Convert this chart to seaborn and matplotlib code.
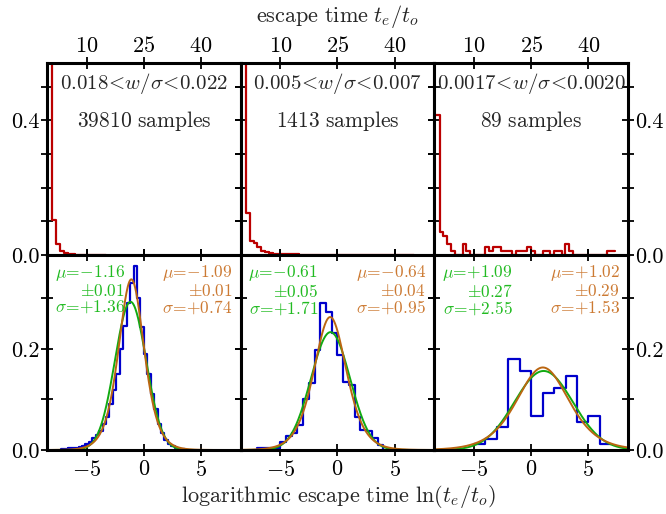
import numpy as np
import pandas as pd
import matplotlib
matplotlib.use("Agg")
import matplotlib.pyplot as plt
import seaborn as sns

# ---------------- data ----------------
range_labels = [r"$0.018\!<\!w/\sigma\!<\!0.022$",
                r"$0.005\!<\!w/\sigma\!<\!0.007$",
                r"$0.0017\!<\!w/\sigma\!<\!0.0020$"]
sample_counts = [39810, 1413, 89]

# fitted parameters (green: normal, orange: logistic)
green_mu = [-1.16, -0.61, 1.09]
green_err = [0.01, 0.05, 0.27]
green_sigma = [1.36, 1.71, 2.55]
orange_mu = [-1.09, -0.64, 1.02]
orange_err = [0.01, 0.04, 0.29]
orange_s = [0.74, 0.95, 1.53]

# top row: escape time histograms (bin width 1, starting at 0)
red_1 = [0.82, 0.104, 0.033, 0.012, 0.006, 0.003, 0.002, 0.001, 0.001, 0.001,
         0.0005, 0.0005, 0.0003, 0.0003, 0.0002]
red_2 = [0.73, 0.124, 0.042, 0.035, 0.024, 0.012, 0.008, 0.005, 0.004, 0.003,
         0.002, 0.002, 0.002, 0.0015, 0.0015, 0.001, 0.001, 0.001, 0.001, 0.001,
         0.001, 0.001, 0.001, 0.001, 0.001, 0.001, 0.001, 0.001, 0.001, 0.001,
         0.001, 0.001, 0.001, 0.001, 0.001, 0.001, 0.001, 0.001, 0.001, 0.001,
         0.001, 0.001, 0.001, 0.001, 0.001]
red_3_counts = [37, 6, 5, 3, 1, 0, 0, 3, 1, 0, 0, 0, 0, 2, 1, 2, 2, 1, 1, 1,
                0, 1, 1, 1, 2, 1, 0, 0, 1, 1, 0, 1, 1, 0, 3, 1, 0, 0, 0, 0,
                0, 0, 0, 0, 0, 1, 1]

# bottom row: log escape time histograms
blue_1_edges = [-7.2, -6.9, -6.6, -6.3, -6.0, -5.7, -5.4, -5.1, -4.8, -4.5, -4.2,
                -3.9, -3.6, -3.3, -3.0, -2.7, -2.4, -2.1, -1.8, -1.5, -1.2, -0.9,
                -0.6, -0.3, 0.0, 0.3, 0.6, 0.9, 1.2, 1.5, 1.8, 2.1, 2.4, 2.7, 3.0,
                3.3, 3.6]
blue_1 = [0.002, 0.002, 0.003, 0.003, 0.004, 0.005, 0.008, 0.011, 0.016, 0.024,
          0.030, 0.038, 0.052, 0.066, 0.092, 0.118, 0.150, 0.200, 0.245, 0.290,
          0.330, 0.365, 0.300, 0.244, 0.190, 0.150, 0.110, 0.082, 0.052, 0.034,
          0.020, 0.012, 0.007, 0.004, 0.002, 0.001]
blue_2_edges = [-7.0, -6.5, -6.0, -5.5, -5.0, -4.5, -4.0, -3.5, -3.0, -2.5, -2.0,
                -1.5, -1.0, -0.5, 0.0, 0.5, 1.0, 1.5, 2.0, 2.5, 3.0, 3.5, 4.0, 4.5]
blue_2 = [0.003, 0.003, 0.003, 0.003, 0.015, 0.028, 0.033, 0.050, 0.100, 0.132,
          0.198, 0.290, 0.274, 0.231, 0.188, 0.135, 0.129, 0.066, 0.040, 0.037,
          0.023, 0.010, 0.000]
blue_3_edges = [-5, -4, -3, -2, -1, 0, 1, 2, 3, 4, 5, 6, 7]
blue_3_counts = [1, 2, 4, 16, 14, 6, 10, 11, 13, 5, 6, 1]

# ---------------- style ----------------
sns.set_theme(style="white")
plt.rcParams.update({
    "font.family": "serif",
    "font.serif": ["cmr10", "DejaVu Serif"],
    "mathtext.fontset": "cm",
    "axes.formatter.use_mathtext": True,
    "axes.unicode_minus": True,
})

RED = "#bb0000"
BLUE = "#0000cc"
GREEN_LINE = "#11aa11"
ORANGE_LINE = "#bb6611"
GREEN_TXT = "#22bb22"
ORANGE_TXT = "#cc7a33"

W, H = 666, 514
fig = plt.figure(figsize=(W / 100, H / 100), dpi=100)
fig.patch.set_facecolor("white")

x_left, x_right = 47, 628
y_top, y_mid, y_bot = 63, 255, 450
cw = (x_right - x_left) / 3


def add_ax(col, row):
    x0 = x_left + col * cw
    if row == 0:
        y0, y1 = y_mid, y_top
    else:
        y0, y1 = y_bot, y_mid
    return fig.add_axes([x0 / W, 1 - y0 / H, cw / W, (y0 - y1) / H])


def style_ax(ax, col, row):
    for sp in ax.spines.values():
        sp.set_linewidth(2.2)
        sp.set_color("black")
    ax.set_facecolor("white")
    ax.grid(False)
    ax.tick_params(axis="both", which="both", direction="inout", length=8,
                   width=1.3, colors="black", labelsize=16,
                   top=True, bottom=True, left=True, right=True,
                   labeltop=(row == 0), labelbottom=(row == 1),
                   labelleft=(col == 0), labelright=(col == 2))
    ax.tick_params(axis="y", pad=1)
    ax.tick_params(axis="x", pad=(1 if row == 0 else 3))
    ax.set_xlabel("")
    ax.set_ylabel("")


def fmt_sign(v):
    return ("{-}" if v < 0 else "{+}") + "%.2f" % abs(v)


red_sets = [list(red_1), list(red_2),
            list(np.array(red_3_counts) / sample_counts[2])]
blue_sets = [(blue_1_edges, blue_1), (blue_2_edges, blue_2),
             (blue_3_edges, list(np.array(blue_3_counts) / sum(blue_3_counts)))]

xg = np.linspace(-8.5, 8.5, 600)

for c in range(3):
    # ---- top: escape time ----
    ax = add_ax(c, 0)
    h = red_sets[c]
    edges = [float(i) for i in range(len(h) + 1)]
    centers = [i + 0.5 for i in range(len(h))]
    df = pd.DataFrame({"t": centers, "w": h})
    sns.histplot(data=df, x="t", weights="w", bins=edges, element="step",
                 fill=False, color=RED, linewidth=1.6, ax=ax)
    ax.set_xlim(-0.4, 50.4)
    ax.set_ylim(0, 0.57)
    ax.set_xticks([10, 25, 40])
    ax.set_yticks([0.0, 0.1, 0.2, 0.3, 0.4, 0.5])
    ax.set_yticklabels(["0.0", "", "", "", "0.4", ""])
    style_ax(ax, c, 0)
    ax.text(0.5, 0.895, range_labels[c], transform=ax.transAxes,
            ha="center", va="center", fontsize=15)
    ax.text(0.5, 0.70, r"$\mathrm{%d\ samples}$" % sample_counts[c],
            transform=ax.transAxes, ha="center", va="center", fontsize=15.5)

    # ---- bottom: log escape time ----
    ax = add_ax(c, 1)
    e, v = blue_sets[c]
    e = [float(x) for x in e]
    cen = [(e[i] + e[i + 1]) / 2 for i in range(len(e) - 1)]
    dfb = pd.DataFrame({"l": cen, "w": v})
    sns.histplot(data=dfb, x="l", weights="w", bins=e, element="step",
                 fill=False, color=BLUE, linewidth=1.6, ax=ax)
    g = np.exp(-0.5 * ((xg - green_mu[c]) / green_sigma[c]) ** 2) / (
        green_sigma[c] * np.sqrt(2 * np.pi))
    z = np.exp(-(xg - orange_mu[c]) / orange_s[c])
    o = z / (orange_s[c] * (1 + z) ** 2)
    sns.lineplot(x=xg, y=g, color=GREEN_LINE, linewidth=1.4, ax=ax)
    sns.lineplot(x=xg, y=o, color=ORANGE_LINE, linewidth=1.4, ax=ax)
    ax.set_xlim(-8.45, 8.45)
    ax.set_ylim(0, 0.386)
    ax.set_xticks([-5, 0, 5])
    ax.set_yticks([0.0, 0.1, 0.2, 0.3])
    ax.set_yticklabels(["0.0", "", "0.2", ""])
    style_ax(ax, c, 1)
    gtxt = "$\\mu\\!=\\!%s$\n$\\pm%.2f$\n$\\sigma\\!=\\!%s$" % (
        fmt_sign(green_mu[c]), green_err[c], fmt_sign(green_sigma[c]))
    otxt = "$\\mu\\!=\\!%s$\n$\\pm%.2f$\n$\\sigma\\!=\\!%s$" % (
        fmt_sign(orange_mu[c]), orange_err[c], fmt_sign(orange_s[c]))
    ax.text(0.04, 0.96, gtxt, transform=ax.transAxes, ha="left", va="top",
            multialignment="right", fontsize=12.5, color=GREEN_TXT,
            linespacing=1.0)
    ax.text(0.958, 0.96, otxt, transform=ax.transAxes, ha="right", va="top",
            multialignment="right", fontsize=12.5, color=ORANGE_TXT,
            linespacing=1.0)

fig.text(338 / W, 1 - 16 / H, r"$\mathrm{escape\ time}\ t_e/t_o$",
         ha="center", va="center", fontsize=16)
fig.text(338 / W, 1 - 497 / H,
         r"$\mathrm{logarithmic\ escape\ time}\ \ln(t_e/t_o)$",
         ha="center", va="center", fontsize=16)

fig.savefig("out.png", dpi=100, facecolor="white")
